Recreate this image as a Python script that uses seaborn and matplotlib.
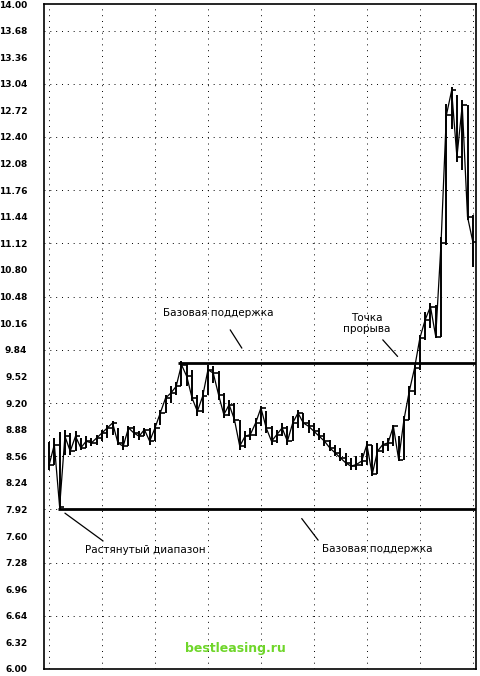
import numpy as np
import pandas as pd
import seaborn as sns
import matplotlib.pyplot as plt

# Цены (по графику): закрытие, максимум, минимум
close = [8.45, 8.70, 7.95, 8.80, 8.62, 8.80, 8.66, 8.74, 8.72, 8.78,
         8.84, 8.90, 8.96, 8.72, 8.68, 8.90, 8.84, 8.80, 8.88, 8.74,
         8.90, 9.08, 9.26, 9.32, 9.40, 9.66, 9.52, 9.26, 9.10, 9.28,
         9.60, 9.56, 9.30, 9.06, 9.18, 9.00, 8.68, 8.80, 8.82, 8.96,
         9.14, 8.90, 8.74, 8.82, 8.90, 8.74, 8.96, 9.08, 8.96, 8.92,
         8.86, 8.80, 8.74, 8.66, 8.60, 8.54, 8.48, 8.44, 8.46, 8.50,
         8.70, 8.34, 8.62, 8.70, 8.72, 8.92, 8.52, 9.00, 9.34, 9.62,
         9.98, 10.20, 10.36, 10.00, 11.12, 12.66, 12.96, 12.16, 12.78, 11.44,
         11.14]
high = [8.73, 8.78, 8.85, 8.88, 8.84, 8.86, 8.78, 8.80, 8.78, 8.82,
        8.88, 8.94, 8.98, 8.90, 8.80, 8.92, 8.92, 8.86, 8.90, 8.90,
        8.96, 9.12, 9.30, 9.40, 9.45, 9.70, 9.68, 9.60, 9.30, 9.36,
        9.66, 9.64, 9.58, 9.32, 9.24, 9.20, 9.00, 8.86, 8.90, 9.02,
        9.16, 9.10, 8.92, 8.88, 8.96, 8.92, 9.04, 9.12, 9.08, 9.00,
        8.96, 8.90, 8.84, 8.76, 8.70, 8.66, 8.60, 8.54, 8.56, 8.60,
        8.74, 8.70, 8.72, 8.74, 8.78, 8.94, 8.80, 9.04, 9.40, 9.66,
        10.02, 10.30, 10.40, 10.38, 11.20, 12.80, 13.00, 12.90, 12.84, 12.78,
        11.46]
low = [8.39, 8.45, 7.93, 8.58, 8.58, 8.62, 8.64, 8.66, 8.68, 8.70,
       8.74, 8.78, 8.82, 8.70, 8.64, 8.68, 8.78, 8.76, 8.80, 8.70,
       8.74, 8.94, 9.08, 9.20, 9.30, 9.40, 9.40, 9.22, 9.04, 9.08,
       9.30, 9.44, 9.24, 9.02, 9.04, 8.96, 8.64, 8.66, 8.76, 8.80,
       8.92, 8.84, 8.70, 8.72, 8.80, 8.70, 8.74, 8.90, 8.90, 8.84,
       8.80, 8.76, 8.68, 8.62, 8.56, 8.50, 8.44, 8.40, 8.40, 8.44,
       8.46, 8.32, 8.34, 8.60, 8.62, 8.68, 8.50, 8.52, 9.00, 9.30,
       9.60, 9.96, 10.10, 9.98, 10.00, 11.10, 12.50, 12.10, 12.00, 11.40,
       10.84]
days = list(range(len(close)))

resistance = 9.68
support = 7.93
y_ticks = [6.00 + 0.32 * k for k in range(26)]

df = pd.DataFrame({'day': days, 'close': close, 'high': high, 'low': low})

sns.set_style('white')
plt.rcParams['font.family'] = ['DejaVu Sans']
plt.rcParams['text.color'] = 'black'
plt.rcParams['ytick.color'] = 'black'

fig = plt.figure(figsize=(4.8, 6.76), dpi=100)
ax = fig.add_axes([44 / 480, 7 / 676, 432 / 480, 665 / 676])

# сетка пунктиром
for g in np.arange(6.0, 14.01, 0.64):
    ax.axhline(g, color='black', lw=0.7, ls=(0, (1, 5)), zorder=0)
for g in range(0, 81, 10):
    ax.axvline(g, color='black', lw=0.7, ls=(0, (1, 5)), zorder=0)

# бары high-low и засечки закрытия
ax.vlines(df['day'], df['low'], df['high'], color='black', lw=1.4)
ax.hlines(df['close'], df['day'], df['day'] + 0.9, color='black', lw=1.2)
sns.lineplot(data=df, x='day', y='close', color='black', lw=0.9, ax=ax)

# уровни
ax.hlines(resistance, 24.3, 80.6, color='black', lw=2)
ax.hlines(support, 1.7, 80.6, color='black', lw=2)

# подписи
fs = 7.5
ax.text(31.9, 10.28, 'Базовая поддержка', ha='center', va='center', fontsize=fs)
ax.plot([34.2, 36.4], [10.08, 9.86], color='black', lw=0.9)
ax.text(60.0, 10.16, 'Точка\nпрорыва', ha='center', va='center', fontsize=fs, linespacing=1.1)
ax.plot([63.0, 65.8], [9.96, 9.76], color='black', lw=0.9)
ax.text(18.1, 7.43, 'Растянутый диапазон', ha='center', va='center', fontsize=fs)
ax.plot([3.0, 10.2], [7.875, 7.54], color='black', lw=0.9)
ax.text(61.9, 7.44, 'Базовая поддержка', ha='center', va='center', fontsize=fs)
ax.plot([47.7, 50.8], [7.81, 7.55], color='black', lw=0.9)
ax.text(35.1, 6.25, 'bestleasing.ru', ha='center', va='center', fontsize=9,
        fontweight='bold', color='#6fd62a')

ax.set_xlim(-0.95, 80.6)
ax.set_ylim(6.0, 14.0)
ax.set_yticks(y_ticks)
ax.set_yticklabels([f'{v:.2f}' for v in y_ticks], fontsize=6.5, fontweight='bold')
ax.tick_params(axis='y', length=0, pad=12)
ax.set_xticks([])
ax.set_xlabel('')
ax.set_ylabel('')
for s in ax.spines.values():
    s.set_color('black')
    s.set_linewidth(1.2)

fig.savefig('out.png', dpi=100)
